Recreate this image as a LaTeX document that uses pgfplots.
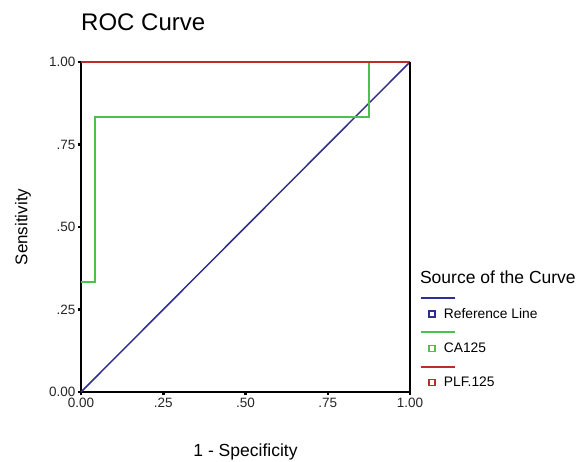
\documentclass[border=0pt]{standalone}
\usepackage{fontspec}
\setmainfont{Liberation Sans}
\usepackage{pgfplots}
\pgfplotsset{compat=1.18}

\definecolor{refblue}{HTML}{2E2E8C}
\definecolor{cagreen}{HTML}{4CC24C}
\definecolor{plfred}{HTML}{BE2B2B}

\begin{document}
\begin{tikzpicture}
  \begin{axis}[
      scale only axis,
      width=329pt, height=330pt,
      xmin=0, xmax=1, ymin=0, ymax=1,
      clip=false,
      axis x line*=bottom, axis y line*=left,
      axis line style={line width=1.5pt, -},
      xtick={0,0.25,0.5,0.75,1},
      xticklabels={0.00,.25,.50,.75,1.00},
      ytick={0,0.25,0.5,0.75,1},
      yticklabels={0.00,.25,.50,.75,1.00},
      tick align=outside,
      major tick length=3pt,
      tick style={line width=2.5pt, black},
      ticklabel style={font=\fontsize{13.5}{15}\selectfont, text=black!85},
      yticklabel style={xshift=1pt},
      /pgf/number format/assume math mode=true,
      title={ROC Curve},
      title style={at={(axis description cs:0,1.102)}, anchor=west,
        inner sep=0pt, font=\fontsize{24}{28}\selectfont},
      xlabel={1 - Specificity},
      xlabel style={at={(axis description cs:0.5,-0.182)}, anchor=center,
        font=\fontsize{17.5}{21}\selectfont},
      ylabel={Sensitivity},
      ylabel style={at={(axis description cs:-0.176,0.5)}, anchor=center,
        rotate=0, font=\fontsize{17}{20}\selectfont},
      legend cell align=left,
      legend style={draw=none, fill=none, inner sep=0pt,
        at={(axis description cs:1.055,0.254)}, anchor=north west,
        row sep=23pt, column sep=8pt,
        nodes={inner sep=0pt},
        font=\fontsize{13.8}{16}\selectfont},
      legend image code/.code={
        \draw[#1, overlay, line width=2pt] (-11pt,16pt) -- (23pt,16pt);
        \draw[#1, line width=1.6pt, fill=white] (-3pt,-3pt) rectangle (3pt,3pt);
      },
    ]
    \addplot[refblue, line width=1.5pt] coordinates {(0,0) (1,1)};
    \addlegendentry{Reference Line}
    \addplot[cagreen, line width=1.9pt] coordinates {
      (0,0.3333) (0.0435,0.3333) (0.0435,0.8333) (0.8765,0.8333) (0.8765,1) (1,1)};
    \addlegendentry{CA125}
    \addplot[plfred, line width=1.5pt] coordinates {(0,1) (1,1)};
    \addlegendentry{PLF.125}
    \draw[line width=1.5pt] (rel axis cs:1,0) -- (rel axis cs:1,1);
    \node[anchor=west, inner sep=0pt, font=\fontsize{17.5}{21}\selectfont]
      at (axis description cs:1.030,0.348) {Source of the Curve};
    \coordinate (o) at (rel axis cs:0,0);
  \end{axis}
  \pgfresetboundingbox
  \path (o) ++(-81pt,-70pt) rectangle ++(588pt,462pt);
\end{tikzpicture}
\end{document}
